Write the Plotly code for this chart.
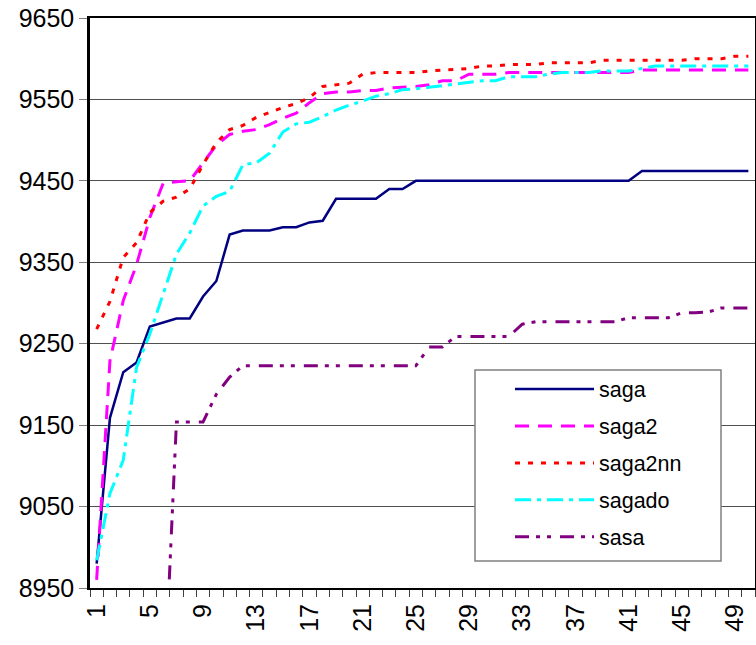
import plotly.graph_objects as go

cats = list(range(1, 51))

saga = [8980, 9159, 9215, 9227, 9271, 9276, 9281, 9281, 9308, 9327,
        9384, 9389, 9389, 9389, 9393, 9393, 9399, 9401, 9428, 9428,
        9428, 9428, 9440, 9440, 9450, 9450, 9450, 9450, 9450, 9450,
        9450, 9450, 9450, 9450, 9450, 9450, 9450, 9450, 9450, 9450,
        9450, 9462, 9462, 9462, 9462, 9462, 9462, 9462, 9462, 9462]

saga2 = [8960, 9229, 9303, 9347, 9405, 9447, 9449, 9450, 9472, 9494,
         9507, 9511, 9513, 9519, 9527, 9533, 9546, 9557, 9559, 9559,
         9561, 9561, 9564, 9565, 9566, 9568, 9573, 9573, 9581, 9581,
         9581, 9583, 9583, 9583, 9583, 9583, 9583, 9583, 9583, 9583,
         9583, 9586, 9586, 9586, 9586, 9586, 9586, 9586, 9586, 9586]

saga2nn = [9268, 9302, 9356, 9374, 9411, 9425, 9430, 9440, 9470, 9497,
           9513, 9518, 9528, 9534, 9540, 9545, 9552, 9566, 9568, 9570,
           9581, 9583, 9583, 9583, 9583, 9585, 9586, 9587, 9588, 9591,
           9591, 9593, 9593, 9593, 9595, 9595, 9595, 9595, 9598, 9598,
           9598, 9598, 9598, 9598, 9598, 9600, 9600, 9600, 9603, 9603]

sagado = [8984, 9066, 9107, 9221, 9262, 9311, 9360, 9386, 9419, 9431,
          9437, 9470, 9472, 9484, 9510, 9520, 9522, 9529, 9537, 9543,
          9548, 9554, 9557, 9562, 9563, 9565, 9567, 9569, 9571, 9573,
          9573, 9578, 9578, 9578, 9581, 9583, 9583, 9583, 9585, 9585,
          9585, 9588, 9591, 9591, 9591, 9591, 9591, 9591, 9591, 9591]

sasa = [None, None, None, None, None, 8795, 9154, 9154, 9154, 9188,
        9209, 9223, 9223, 9223, 9223, 9223, 9223, 9223, 9223, 9223,
        9223, 9223, 9223, 9223, 9223, 9246, 9246, 9259, 9259, 9259,
        9259, 9259, 9274, 9277, 9277, 9277, 9277, 9277, 9277, 9277,
        9282, 9282, 9282, 9282, 9288, 9288, 9289, 9294, 9294, 9294]

y_ticks = [8950, 9050, 9150, 9250, 9350, 9450, 9550, 9650]
x_labels = [1, 5, 9, 13, 17, 21, 25, 29, 33, 37, 41, 45, 49]

series = [
    ("saga", saga, "#000080", 2.5, "solid"),
    ("saga2", saga2, "#FF00FF", 3, "14px,9px"),
    ("saga2nn", saga2nn, "#FF0000", 3, "5px,8px"),
    ("sagado", sagado, "#00FFFF", 3, "16px,6px,4px,6px"),
    ("sasa", sasa, "#800080", 3, "14px,7px,4px,7px,4px,9px"),
]

fig = go.Figure()
for i, (name, vals, color, w, dash) in enumerate(series):
    fig.add_trace(go.Scatter(
        x=cats, y=vals, name=name, mode="lines",
        line=dict(color=color, width=w, dash=dash),
        connectgaps=False, legendgroup=name,
    ))

font_family = "Liberation Sans, Arial, sans-serif"

# plot area: x 90..755, y 18..588 (665 x 570 px)
PW, PH = 665.0, 570.0

fig.update_layout(
    width=756, height=645,
    margin=dict(l=90, r=1, t=18, b=57, autoexpand=False),
    paper_bgcolor="white", plot_bgcolor="white",
    font=dict(family=font_family, color="black", size=25),
    showlegend=True,
    legend=dict(
        x=(510 - 90) / PW, y=(588 - 368.5) / PH,
        xanchor="left", yanchor="top",
        bgcolor="rgba(0,0,0,0)", borderwidth=0,
        font=dict(family=font_family, size=21.5, color="black"),
        itemwidth=79, tracegroupgap=6,
    ),
    shapes=[dict(
        type="rect", xref="paper", yref="paper", layer="above",
        x0=(475 - 90) / PW, x1=(721 - 90) / PW,
        y0=(588 - 561) / PH, y1=(588 - 370) / PH,
        line=dict(color="#808080", width=1.5), fillcolor="white",
    )],
    xaxis=dict(
        range=[0.5, 50.5], automargin=False,
        tickmode="array", tickvals=x_labels,
        ticktext=[str(v) for v in x_labels],
        tickangle=-90, ticks="", ticklabelstandoff=4,
        showgrid=False, zeroline=False,
        showline=True, linecolor="black", linewidth=2, mirror=True,
        tickfont=dict(family=font_family, size=25, color="black"),
        minor=dict(tickmode="linear", tick0=0.5, dtick=1, ticks="outside",
                   ticklen=7, tickcolor="#404040", tickwidth=1, showgrid=False),
    ),
    yaxis=dict(
        range=[8950, 9650], automargin=False,
        tickmode="array", tickvals=y_ticks,
        ticks="outside", ticklen=8, tickcolor="#808080", tickwidth=1,
        showgrid=True, gridcolor="#505050", gridwidth=1,
        zeroline=False,
        showline=True, linecolor="black", linewidth=2.5, mirror=True,
        tickfont=dict(family=font_family, size=25, color="black"),
    ),
)

fig.write_html(
    "out.html",
    config={"displayModeBar": False},
    post_script="document.body.style.margin='0px';document.body.style.overflow='hidden';",
)
